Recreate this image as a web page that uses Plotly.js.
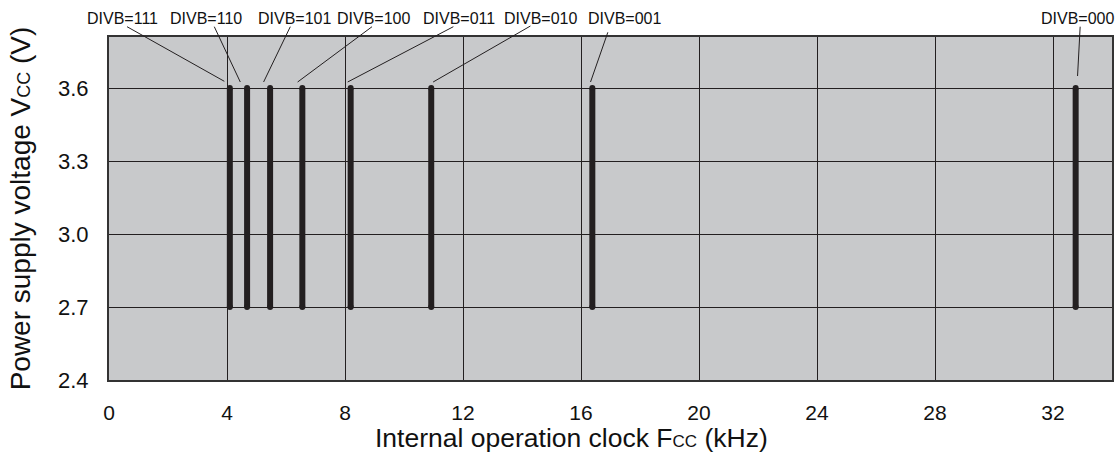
<!DOCTYPE html>
<html>
<head>
<meta charset="utf-8">
<script src="https://cdn.plot.ly/plotly-3.0.1.min.js"></script>
<style>html,body{margin:0;padding:0;background:#fff;}#chart{width:1118px;height:454px;}</style>
</head>
<body>
<div id="chart"></div>
<script>
// ---- data ----
const divbLabels = ['DIVB=111','DIVB=110','DIVB=101','DIVB=100','DIVB=011','DIVB=010','DIVB=001','DIVB=000'];
const clockKHz   = [4.096, 4.681, 5.461, 6.554, 8.192, 10.923, 16.384, 32.768];
const vccMin     = [2.7, 2.7, 2.7, 2.7, 2.7, 2.7, 2.7, 2.7];
const vccMax     = [3.6, 3.6, 3.6, 3.6, 3.6, 3.6, 3.6, 3.6];
const xTicks     = [0, 4, 8, 12, 16, 20, 24, 28, 32];
const yTicks     = [2.4, 2.7, 3.0, 3.3, 3.6];

// ---- label / leader placement (pixel offsets, styling only) ----
const labelShiftX = [-107, -40.8, 24.2, 71, 108.7, 109.2, 32.2, 1.7];
const labelShiftY = 69.5;
// [dx from bar, px below plot top] for the line end near the bar and the end near the label
const leaderHead  = [[-5.5,44.3],[-6.8,45],[-6.5,45],[-4.7,45],[-3,45],[1.9,45],[-1.8,45],[1.9,39]];
const leaderTail  = [[-102.8,-10.3],[-32.8,-10.3],[20.2,-10.3],[69.7,-10.3],[102.7,-10.3],[99.2,-11],[15.5,-4.7],[4.5,-10.3]];

const ink = '#231f20';
const FONT = 'Liberation Sans, Arial, Helvetica, sans-serif';

const traces = clockKHz.map((f, i) => ({
  type: 'scatter',
  mode: 'lines+markers',
  x: [f, f],
  y: [vccMin[i], vccMax[i]],
  line: {color: ink, width: 6},
  marker: {color: ink, size: 6, symbol: 'circle'},
  hoverinfo: 'skip',
  showlegend: false
}));

const annotations = clockKHz.map((f, i) => ({
  x: f, y: vccMax[i], xref: 'x', yref: 'y',
  text: divbLabels[i], showarrow: false,
  xanchor: 'center', yanchor: 'middle',
  xshift: labelShiftX[i], yshift: labelShiftY,
  font: {family: FONT, size: 16, color: '#111'}
}));
annotations.push({
  xref: 'paper', yref: 'paper', x: 0.4616, y: 0,
  xanchor: 'center', yanchor: 'middle', yshift: -58,
  showarrow: false,
  text: 'Internal operation clock F<span style="font-size:17px">CC</span> (kHz)',
  font: {family: FONT, size: 26.5, color: '#111'}
});

const shapes = clockKHz.map((f, i) => ({
  type: 'line', layer: 'above',
  xref: 'x', xsizemode: 'pixel', xanchor: f,
  x0: leaderHead[i][0], x1: leaderTail[i][0],
  yref: 'paper', ysizemode: 'pixel', yanchor: 1,
  y0: -leaderHead[i][1], y1: -leaderTail[i][1],
  line: {color: ink, width: 1}
}));

const layout = {
  width: 1118, height: 454,
  margin: {l: 109, r: 6, t: 37, b: 74, pad: 0},
  paper_bgcolor: '#ffffff',
  plot_bgcolor: '#c8c9cb',
  font: {family: FONT, color: '#111', size: 21},
  showlegend: false,
  xaxis: {
    range: [0, 34],
    tickvals: xTicks, ticktext: xTicks.map(String),
    showgrid: true, gridcolor: ink, gridwidth: 1,
    zeroline: false,
    showline: true, linecolor: '#333', linewidth: 2, mirror: true,
    ticks: '', ticklabelstandoff: 13,
    tickfont: {family: FONT, size: 21, color: '#111'},
    fixedrange: true
  },
  yaxis: {
    range: [2.4, 3.81],
    tickvals: yTicks, ticktext: yTicks.map(v => v.toFixed(1)),
    showgrid: true, gridcolor: ink, gridwidth: 1,
    zeroline: false,
    showline: true, linecolor: '#333', linewidth: 2, mirror: true,
    ticks: '', ticklabelstandoff: 14,
    tickfont: {family: FONT, size: 22, color: '#111'},
    title: {text: 'Power supply voltage V<span style="font-size:18px">CC</span> (V)',
            font: {family: FONT, size: 28, color: '#111'}, standoff: 19},
    fixedrange: true
  },
  shapes: shapes,
  annotations: annotations
};

Plotly.newPlot('chart', traces, layout, {displayModeBar: false, staticPlot: true});
</script>
</body>
</html>
